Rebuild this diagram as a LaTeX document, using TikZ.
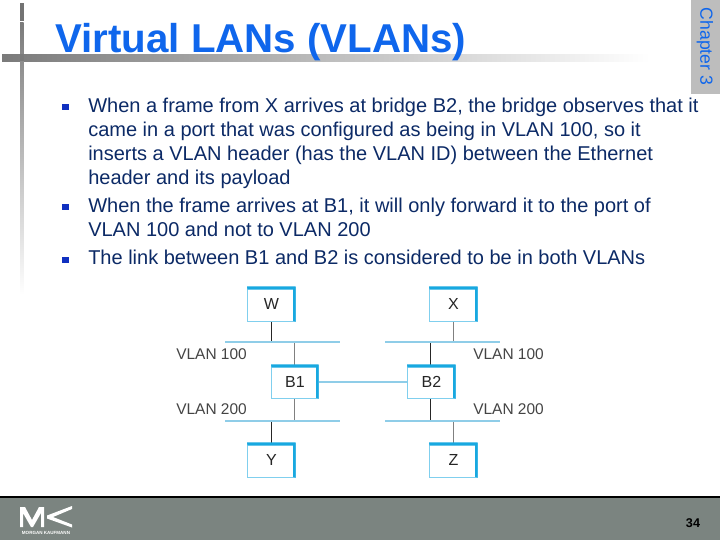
\documentclass[tikz,border=0pt]{standalone}
\usepackage{fontspec}
\setmainfont{Liberation Sans}
\definecolor{titleblue}{HTML}{0F66EC}
\definecolor{bodyblue}{HTML}{0C2A66}
\definecolor{bullet}{HTML}{1030C0}
\definecolor{netblue}{HTML}{8FCDE8}
\definecolor{boxblue}{HTML}{18A8E0}
\definecolor{footgray}{HTML}{7B8480}
\definecolor{tabgray}{HTML}{BDBDBD}
\definecolor{lab}{HTML}{444444}
\tikzset{
 x=0.75pt,y=-0.75pt,
 txt/.style={inner sep=0pt,anchor=base west,text=bodyblue,font=\fontsize{15}{17}\selectfont},
 blt/.style={fill=bullet,draw=none,minimum size=5.2pt,inner sep=0pt},
 netbox/.style={draw=boxblue!55,line width=0.7pt,fill=white,inner sep=0pt,text=black!85,font=\fontsize{12}{14}\selectfont},
 bar/.style={draw=netblue,line width=1.2pt},
 dark/.style={draw=black!85,line width=0.7pt},
 pale/.style={draw=black!50,line width=0.6pt},
 vlab/.style={text=lab,inner sep=0pt,anchor=base west,font=\fontsize{11.6}{13}\selectfont},
}
\newcommand{\nbox}[5]{%
 \node[netbox,minimum width=#4*0.75pt,minimum height=#5*0.75pt,anchor=north west] (#1) at (#2,#3) {\MakeUppercase{#1}};
 \fill[boxblue] (#2,#3) ++(0,-0.6) -- ++(#4+0.6,0) -- ++(0,#5+1.2) -- ++(-2.5,-0.6) -- ++(0,-#5+2.5) -- ++(-#4+2.5,0) -- cycle;
}
\begin{document}
\begin{tikzpicture}
\useasboundingbox (0,0) rectangle (720,540);
\fill[white] (0,0) rectangle (720,540);
% frame bars
\shade[left color=black!52,right color=white] (2,54) rectangle (650,61);
\shade[top color=black!52,bottom color=white] (20,22) rectangle (23.5,295);
\fill[black!55] (20,3) rectangle (23.5,21);
\fill[black!52] (20,54) rectangle (23.5,61);
% chapter tab
\fill[tabgray] (691,0) rectangle (720,94);
\node[rotate=-90,inner sep=0pt,text=titleblue,font=\fontsize{13.2}{15}\selectfont] (chap) at (705,46.5) {Chapter 3};
% title
\node[inner sep=0pt,anchor=base west,text=titleblue,font=\fontsize{30.2}{34}\bfseries\selectfont] (title) at (55,52) {Virtual LANs (VLANs)};
% bullets
\node[blt] (b1) at (65.5,107) {};
\node[blt] (b2) at (65.5,207) {};
\node[blt] (b3) at (65.5,260) {};
\node[txt] (t1) at (88,112) {When a frame from X arrives at bridge B2, the bridge observes that it};
\node[txt] (t2) at (88,136) {came in a port that was configured as being in VLAN 100, so it};
\node[txt] (t3) at (88,160) {inserts a VLAN header (has the VLAN ID) between the Ethernet};
\node[txt] (t4) at (88,184) {header and its payload};
\node[txt] (t5) at (88,212) {When the frame arrives at B1, it will only forward it to the port of};
\node[txt] (t6) at (88,236) {VLAN 100 and not to VLAN 200};
\node[txt] (t7) at (88,264) {The link between B1 and B2 is considered to be in both VLANs};
% network
\coordinate (lt1) at (225,342); \coordinate (lt2) at (340,342);
\coordinate (rt1) at (385,342); \coordinate (rt2) at (500,342);
\coordinate (lb1) at (225,421); \coordinate (lb2) at (340,421);
\coordinate (rb1) at (385,421); \coordinate (rb2) at (500,421);
\coordinate (jw) at (271,342); \coordinate (jb1t) at (294,342);
\coordinate (jx) at (453,342); \coordinate (jb2t) at (430,342);
\coordinate (jy) at (271,421); \coordinate (jb1b) at (294,421);
\coordinate (jz) at (453,421); \coordinate (jb2b) at (430,421);
\draw[dark] (271,321) -- (jw);
\draw[pale] (294,365) -- (jb1t);
\draw[pale] (453,321) -- (jx);
\draw[dark] (430,365) -- (jb2t);
\draw[pale] (294,398) -- (jb1b);
\draw[dark] (271,443) -- (jy);
\draw[dark] (430,398) -- (jb2b);
\draw[pale] (453,443) -- (jz);
\draw[bar] (lt1) -- (lt2);
\draw[bar] (rt1) -- (rt2);
\draw[bar] (lb1) -- (lb2);
\draw[bar] (rb1) -- (rb2);
\nbox{w}{247}{287}{48}{34}
\nbox{x}{429}{287}{48}{34}
\nbox{b1}{271}{365}{47}{33}
\nbox{b2}{407}{365}{48}{33}
\nbox{y}{247}{443}{48}{34}
\nbox{z}{429}{443}{48}{34}
\draw[bar] (b1.east) -- (b2.west);
\node[vlab] (v1) at (176,359) {VLAN 100};
\node[vlab] (v2) at (473,359) {VLAN 100};
\node[vlab] (v3) at (176,414) {VLAN 200};
\node[vlab] (v4) at (473,414) {VLAN 200};
% footer
\fill[footgray] (0,497) rectangle (720,540);
\fill[black] (0,496) rectangle (720,498);
\fill[white] (20,527) -- (20,507) -- (25,507) -- (32,520) -- (39,507) -- (44,507) -- (44,527) -- (41,527) -- (41,513) -- (33,527) -- (31,527) -- (23,513) -- (23,527) -- cycle;
\fill[white] (47,515.5) -- (72,506) -- (72,509) -- (53,517) -- (72,524.5) -- (72,527.5) -- (47,518.5) -- cycle;
\node[inner sep=0pt,text=white,font=\fontsize{3.4}{4}\bfseries\selectfont] (mk) at (46,533) {MORGAN KAUFMANN};
\node[inner sep=0pt,text=black,font=\fontsize{9.5}{11}\bfseries\selectfont] (pg) at (693,523) {34};
\end{tikzpicture}
\end{document}
